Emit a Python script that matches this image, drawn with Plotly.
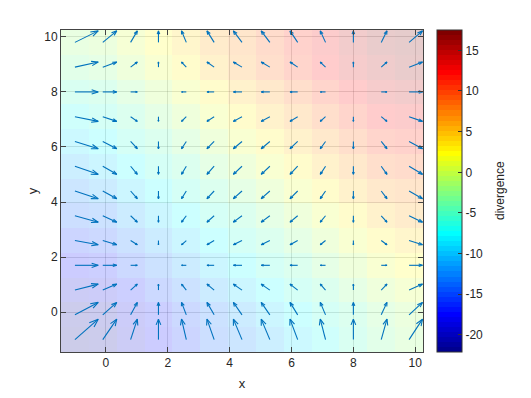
import numpy as np
import plotly.graph_objects as go
import plotly.figure_factory as ff

# ---- data ----
x_vals = [-1.0, -0.1, 0.8, 1.7, 2.6, 3.5, 4.4, 5.3, 6.2, 7.1, 8.0, 8.9, 9.8]
y_vals = [-1.0, -0.1, 0.8, 1.7, 2.6, 3.5, 4.4, 5.3, 6.2, 7.1, 8.0, 8.9, 9.8]
# horizontal component per column (x) and vertical component per row (y)
u_by_column = [24.3, 14.6, 7.0, 0.0, -5.0, -7.5, -9.0, -9.0, -8.0, -5.5, 0.0, 6.0, 14.0]
v_by_row = [24.0, 14.6, 7.0, 0.0, -5.0, -7.5, -9.0, -9.5, -8.5, -5.5, 0.0, 6.0, 13.5]

# divergence field (rows = y from -1 to 9.8, columns = x from -1 to 9.8)
divergence = [
    [-22.1, -21.25, -19.45, -17.65, -15.85, -14.05, -12.25, -10.45, -8.65, -6.85, -5.05, -3.25, -2.3],
    [-21.25, -20.4, -18.6, -16.8, -15.0, -13.2, -11.4, -9.6, -7.8, -6.0, -4.2, -2.4, -1.45],
    [-19.45, -18.6, -16.8, -15.0, -13.2, -11.4, -9.6, -7.8, -6.0, -4.2, -2.4, -0.6, 0.35],
    [-17.65, -16.8, -15.0, -13.2, -11.4, -9.6, -7.8, -6.0, -4.2, -2.4, -0.6, 1.2, 2.15],
    [-15.85, -15.0, -13.2, -11.4, -9.6, -7.8, -6.0, -4.2, -2.4, -0.6, 1.2, 3.0, 3.95],
    [-14.05, -13.2, -11.4, -9.6, -7.8, -6.0, -4.2, -2.4, -0.6, 1.2, 3.0, 4.8, 5.75],
    [-12.25, -11.4, -9.6, -7.8, -6.0, -4.2, -2.4, -0.6, 1.2, 3.0, 4.8, 6.6, 7.55],
    [-10.45, -9.6, -7.8, -6.0, -4.2, -2.4, -0.6, 1.2, 3.0, 4.8, 6.6, 8.4, 9.35],
    [-8.65, -7.8, -6.0, -4.2, -2.4, -0.6, 1.2, 3.0, 4.8, 6.6, 8.4, 10.2, 11.15],
    [-6.85, -6.0, -4.2, -2.4, -0.6, 1.2, 3.0, 4.8, 6.6, 8.4, 10.2, 12.0, 12.95],
    [-5.05, -4.2, -2.4, -0.6, 1.2, 3.0, 4.8, 6.6, 8.4, 10.2, 12.0, 13.8, 14.75],
    [-3.25, -2.4, -0.6, 1.2, 3.0, 4.8, 6.6, 8.4, 10.2, 12.0, 13.8, 15.6, 16.55],
    [-2.3, -1.45, 0.35, 2.15, 3.95, 5.75, 7.55, 9.35, 11.15, 12.95, 14.75, 16.55, 17.5],
]
axis_ticks = [0, 2, 4, 6, 8, 10]
cbar_ticks = [-20, -15, -10, -5, 0, 5, 10, 15]
cbar_ticktext = ["-20", "-15", "-10", "-5", "0", "5", "10", "15"]

FONT = "Liberation Sans, Arial"


# ---- discrete jet(64) colormap ----
def jet_colors(m=64):
    n = int(np.ceil(m / 4))
    u = np.concatenate([np.arange(1, n + 1) / n, np.ones(n - 1), np.arange(n, 0, -1) / n])
    g = int(np.ceil(n / 2)) - (1 if m % 4 == 1 else 0) + np.arange(1, len(u) + 1)
    r = g + n
    b = g - n
    J = np.zeros((m, 3))
    for idx, val in zip(g, u):
        if 1 <= idx <= m:
            J[idx - 1, 1] = val
    for idx, val in zip(r, u):
        if 1 <= idx <= m:
            J[idx - 1, 0] = val
    for idx, val in zip(b, u):
        if 1 <= idx <= m:
            J[idx - 1, 2] = val
    return J


J = jet_colors(64)
colorscale = []
for k in range(64):
    c = "rgb(%d,%d,%d)" % tuple(int(round(255 * t)) for t in J[k])
    colorscale.append([k / 64, c])
    colorscale.append([(k + 1) / 64, c])

X, Y = np.meshgrid(np.array(x_vals), np.array(y_vals))
U = np.tile(np.array(u_by_column), (len(y_vals), 1))
V = np.tile(np.array(v_by_row)[:, None], (1, len(x_vals)))

quiv = ff.create_quiver(X, Y, U, V, scale=0.031, arrow_scale=0.3,
                        line=dict(width=1.1, color="#0072BD"))

fig = go.Figure()
fig.add_trace(go.Heatmap(
    x=x_vals, y=y_vals, z=divergence,
    colorscale=colorscale, zmin=-22.1, zmax=17.5, opacity=0.2,
    showscale=False, hoverinfo="skip",
))
# colorbar via an invisible helper trace (fully opaque colorbar)
fig.add_trace(go.Scatter(
    x=[None], y=[None], mode="markers", showlegend=False, hoverinfo="skip",
    marker=dict(colorscale=colorscale, cmin=-22.1, cmax=17.5, color=[0],
                showscale=True,
                colorbar=dict(
                    x=1.0387, xanchor="left", xpad=0, y=0.5, yanchor="middle",
                    ypad=0, len=1, lenmode="fraction", thickness=25,
                    outlinecolor="#333333", outlinewidth=1,
                    ticks="inside", ticklen=4, tickcolor="#333333",
                    tickvals=cbar_ticks, ticktext=cbar_ticktext,
                    tickfont=dict(family=FONT, size=12, color="#262626"),
                )),
))
for tr in quiv.data:
    tr.showlegend = False
    tr.hoverinfo = "skip"
    fig.add_trace(tr)

axis_common = dict(
    range=[-1.45, 10.25], tickvals=axis_ticks, showgrid=True,
    gridcolor="rgba(38,38,38,0.15)", gridwidth=1, zeroline=False,
    showline=True, linecolor="#444444", linewidth=1, mirror="ticks",
    ticks="inside", ticklen=5, tickcolor="#444444", automargin=False,
    tickfont=dict(family=FONT, size=12, color="#262626"),
)
fig.update_layout(
    width=531, height=398,
    margin=dict(l=61, r=108, t=30, b=46),
    paper_bgcolor="white", plot_bgcolor="white",
    showlegend=False,
    xaxis=dict(axis_common, title=dict(text="x", standoff=9,
               font=dict(family=FONT, size=13, color="#262626"))),
    yaxis=dict(axis_common, title=dict(text="y", standoff=3,
               font=dict(family=FONT, size=13, color="#262626"))),
    annotations=[dict(
        text="divergence", xref="paper", yref="paper",
        x=(500 - 61) / 362, y=0.5, xanchor="center", yanchor="middle",
        textangle=-90, showarrow=False,
        font=dict(family=FONT, size=12, color="#262626"),
    )],
)
fig.write_html("out.html")
